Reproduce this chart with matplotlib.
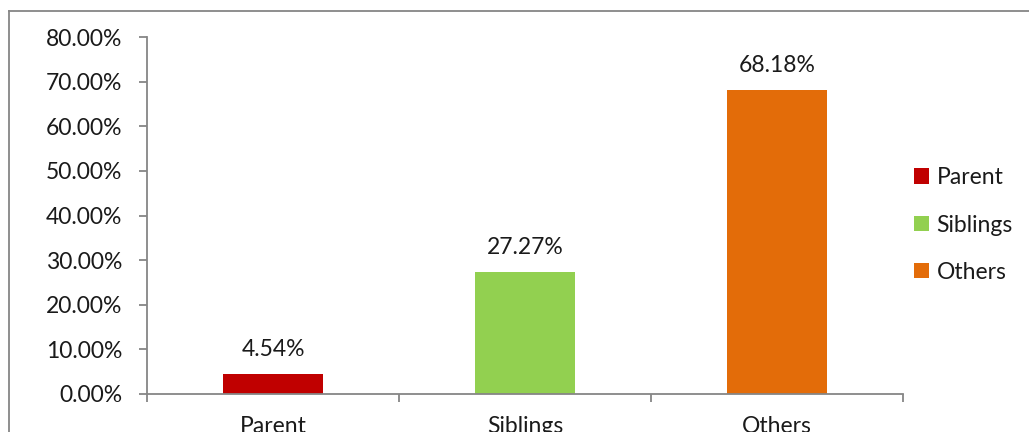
import matplotlib.pyplot as plt
from matplotlib.lines import Line2D
from matplotlib.patches import Patch

plt.rcParams['font.family'] = ['Lato', 'DejaVu Sans']

categories = ['Parent', 'Siblings', 'Others']
shares = [4.54, 27.27, 68.18]
labels = ['4.54%', '27.27%', '68.18%']
colors = ['#C00000', '#92D050', '#E36C09']
yticks = [0, 10, 20, 30, 40, 50, 60, 70, 80]

fig = plt.figure(figsize=(10.29, 4.32), dpi=100)
ax = fig.add_axes([147 / 1029, 38 / 432, 756 / 1029, 357 / 432])

x = range(len(categories))
ax.bar(x, shares, width=0.4, color=colors)
for xi, v, lab in zip(x, shares, labels):
    ax.annotate(lab, (xi, v), xytext=(0, 10), textcoords='offset points',
                ha='center', va='bottom', fontsize=16.5, color='#1a1a1a')

ax.set_xlim(-0.5, 2.5)
ax.set_ylim(0, 80)
ax.set_yticks(yticks)
ax.set_yticklabels([f'{t:.2f}%' for t in yticks], fontsize=16.5, color='#1a1a1a')
ax.set_xticks(list(x))
ax.set_xticklabels(categories, fontsize=16.5, color='#1a1a1a')
ax.set_xticks([-0.5, 0.5, 1.5, 2.5], minor=True)
ax.tick_params(axis='x', which='major', length=0, pad=16)
ax.tick_params(axis='x', which='minor', length=6, color='#868686', width=1.3)
ax.tick_params(axis='y', length=6, color='#868686', width=1.3, pad=12)

for side in ['top', 'right']:
    ax.spines[side].set_visible(False)
for side in ['left', 'bottom']:
    ax.spines[side].set_color('#868686')
    ax.spines[side].set_linewidth(1.3)

# chart area frame (left and top edges)
fig.add_artist(Line2D([9 / 1029, 9 / 1029], [0, 1 - 11 / 432],
                      transform=fig.transFigure, color='#868686', lw=1.3))
fig.add_artist(Line2D([9 / 1029, 1], [1 - 11 / 432, 1 - 11 / 432],
                      transform=fig.transFigure, color='#868686', lw=1.3))

handles = [Patch(facecolor=c, label=n) for c, n in zip(colors, categories)]
fig.legend(handles=handles, loc='center left', bbox_to_anchor=(893 / 1029, 1 - 225 / 432),
           frameon=False, fontsize=16.5, handlelength=0.65, handleheight=0.65,
           handletextpad=0.35, labelspacing=1.15, labelcolor='#1a1a1a')

fig.savefig('out.png', dpi=100)
